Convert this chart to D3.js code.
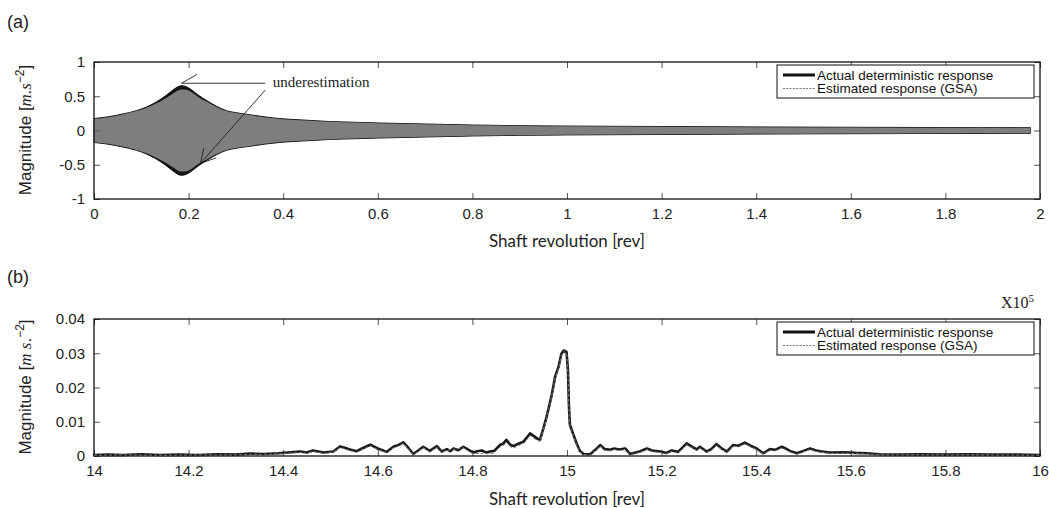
<!DOCTYPE html>
<html>
<head>
<meta charset="utf-8">
<script src="https://cdn.jsdelivr.net/npm/d3@7"></script>
<style>
  html, body { margin: 0; padding: 0; background: #fff; }
  svg { display: block; }
</style>
</head>
<body>
<svg id="chart" width="1049" height="508"></svg>
<script>
// ---------- DATA ----------
// Panel (a): envelope of the time response (amplitude, m.s^-2)
const revA = [0,0.03,0.06,0.09,0.11,0.13,0.15,0.165,0.175,0.185,0.195,0.205,0.22,0.24,0.26,0.28,0.30,0.33,0.36,0.40,0.45,0.50,0.55,0.60,0.70,0.80,0.90,1.00,1.20,1.40,1.60,1.80,1.98];
const actualAmpA = [0.175,0.20,0.24,0.29,0.34,0.41,0.50,0.58,0.63,0.655,0.64,0.60,0.52,0.43,0.35,0.29,0.26,0.23,0.20,0.17,0.15,0.13,0.12,0.11,0.095,0.08,0.07,0.065,0.058,0.052,0.047,0.043,0.04];
const estimatedAmpA = [0.17,0.195,0.235,0.285,0.33,0.39,0.465,0.53,0.575,0.60,0.595,0.565,0.49,0.415,0.34,0.283,0.254,0.225,0.195,0.166,0.146,0.127,0.117,0.107,0.092,0.077,0.067,0.062,0.055,0.049,0.044,0.04,0.037];

// Panel (b): spectrum magnitude vs shaft revolution (x 1e5)
const actualB = [[14.00,0.0003],[14.03,0.0004],[14.06,0.0003],[14.10,0.0005],[14.14,0.0003],[14.18,0.0004],[14.22,0.0003],[14.26,0.0005],[14.30,0.0004],[14.33,0.0007],[14.36,0.0006],[14.39,0.0008],[14.41,0.0010],[14.435,0.0013],[14.45,0.0010],[14.463,0.0016],[14.485,0.0010],[14.506,0.0013],[14.520,0.0028],[14.530,0.0024],[14.541,0.0019],[14.555,0.0014],[14.570,0.0024],[14.584,0.0033],[14.600,0.0022],[14.619,0.0012],[14.633,0.0027],[14.645,0.0033],[14.654,0.0040],[14.664,0.0025],[14.675,0.0006],[14.686,0.0017],[14.696,0.0027],[14.710,0.0015],[14.725,0.0029],[14.735,0.0013],[14.746,0.0020],[14.753,0.0014],[14.760,0.0022],[14.770,0.0017],[14.781,0.0027],[14.792,0.0018],[14.802,0.0010],[14.810,0.0014],[14.820,0.0016],[14.830,0.0010],[14.837,0.0013],[14.846,0.0015],[14.858,0.0032],[14.865,0.0036],[14.872,0.0047],[14.880,0.0033],[14.887,0.0029],[14.897,0.0036],[14.908,0.0042],[14.914,0.0052],[14.922,0.0066],[14.930,0.0058],[14.938,0.0050],[14.943,0.0048],[14.950,0.0080],[14.957,0.0115],[14.963,0.0150],[14.968,0.0180],[14.975,0.0232],[14.982,0.0260],[14.988,0.0298],[14.993,0.0308],[14.999,0.0304],[15.002,0.0250],[15.004,0.0150],[15.006,0.0092],[15.012,0.0068],[15.020,0.0038],[15.027,0.0015],[15.035,0.0006],[15.049,0.0005],[15.060,0.0018],[15.070,0.0032],[15.080,0.0020],[15.091,0.0018],[15.100,0.0022],[15.110,0.0019],[15.123,0.0022],[15.133,0.0006],[15.145,0.0010],[15.155,0.0014],[15.169,0.0022],[15.180,0.0016],[15.197,0.0013],[15.210,0.0009],[15.221,0.0016],[15.235,0.0012],[15.253,0.0037],[15.263,0.0028],[15.274,0.0019],[15.281,0.0027],[15.295,0.0013],[15.305,0.0020],[15.316,0.0035],[15.327,0.0022],[15.338,0.0013],[15.351,0.0032],[15.362,0.0030],[15.376,0.0039],[15.388,0.0030],[15.401,0.0022],[15.415,0.0008],[15.429,0.0020],[15.440,0.0018],[15.454,0.0027],[15.462,0.0022],[15.471,0.0015],[15.486,0.0008],[15.500,0.0015],[15.514,0.0022],[15.525,0.0017],[15.535,0.0014],[15.555,0.0010],[15.584,0.0011],[15.610,0.0009],[15.634,0.0008],[15.660,0.0005],[15.70,0.0004],[15.75,0.0005],[15.80,0.0004],[15.85,0.0005],[15.90,0.0004],[15.95,0.0004],[16.00,0.0003]];
const estimatedB = [[14.00,0.0002],[14.05,0.0003],[14.10,0.0003],[14.15,0.0002],[14.20,0.0003],[14.25,0.0003],[14.30,0.0003],[14.33,0.0005],[14.36,0.0004],[14.39,0.0006],[14.41,0.0008],[14.435,0.0010],[14.45,0.0008],[14.463,0.0013],[14.485,0.0008],[14.506,0.0011],[14.520,0.0025],[14.530,0.0021],[14.541,0.0016],[14.555,0.0011],[14.570,0.0021],[14.584,0.0030],[14.600,0.0019],[14.619,0.0009],[14.633,0.0024],[14.645,0.0030],[14.654,0.0037],[14.664,0.0022],[14.675,0.0004],[14.686,0.0014],[14.696,0.0024],[14.710,0.0012],[14.725,0.0026],[14.735,0.0010],[14.746,0.0017],[14.760,0.0019],[14.781,0.0024],[14.792,0.0014],[14.802,0.0006],[14.820,0.0008],[14.837,0.0006],[14.846,0.0009],[14.858,0.0026],[14.865,0.0030],[14.872,0.0040],[14.880,0.0027],[14.887,0.0023],[14.897,0.0030],[14.908,0.0036],[14.914,0.0046],[14.922,0.0060],[14.930,0.0052],[14.938,0.0044],[14.943,0.0043],[14.950,0.0075],[14.957,0.0110],[14.963,0.0146],[14.968,0.0176],[14.975,0.0228],[14.982,0.0256],[14.988,0.0294],[14.993,0.0305],[14.999,0.0301],[15.002,0.0246],[15.004,0.0146],[15.006,0.0088],[15.012,0.0064],[15.020,0.0034],[15.027,0.0012],[15.035,0.0004],[15.049,0.0003],[15.060,0.0015],[15.070,0.0029],[15.080,0.0017],[15.091,0.0015],[15.100,0.0019],[15.110,0.0016],[15.123,0.0019],[15.133,0.0004],[15.145,0.0007],[15.155,0.0011],[15.169,0.0019],[15.180,0.0013],[15.197,0.0010],[15.210,0.0006],[15.221,0.0013],[15.235,0.0009],[15.253,0.0033],[15.263,0.0025],[15.274,0.0016],[15.281,0.0024],[15.295,0.0010],[15.305,0.0017],[15.316,0.0031],[15.327,0.0019],[15.338,0.0010],[15.351,0.0029],[15.362,0.0027],[15.376,0.0035],[15.388,0.0027],[15.401,0.0019],[15.415,0.0005],[15.429,0.0017],[15.440,0.0015],[15.454,0.0024],[15.462,0.0019],[15.471,0.0012],[15.486,0.0005],[15.500,0.0012],[15.514,0.0019],[15.525,0.0014],[15.535,0.0011],[15.555,0.0008],[15.584,0.0008],[15.610,0.0007],[15.634,0.0006],[15.660,0.0004],[15.70,0.0003],[15.75,0.0004],[15.80,0.0003],[15.85,0.0004],[15.90,0.0003],[15.95,0.0003],[16.00,0.0002]];

// Tick labels
const xTicksA = [0,0.2,0.4,0.6,0.8,1,1.2,1.4,1.6,1.8,2];
const yTicksA = [-1,-0.5,0,0.5,1];
const xTicksB = [14,14.2,14.4,14.6,14.8,15,15.2,15.4,15.6,15.8,16];
const yTicksB = [0,0.01,0.02,0.03,0.04];
const legendLabels = ["Actual deterministic response", "Estimated response (GSA)"];

// Annotation in panel (a), data coordinates
const annotationText = { text: "underestimation", at: [0.378, 0.635] };
const annotationLines = [
  [[0.362, 0.69], [0.185, 0.69]],
  [[0.185, 0.69], [0.218, 0.82]],
  [[0.362, 0.59], [0.225, -0.48]],
  [[0.225, -0.48], [0.232, -0.26]],
  [[0.225, -0.48], [0.258, -0.40]]
];

// ---------- DRAWING ----------
const svg = d3.select("#chart");
const sans = "'Liberation Sans', Arial, sans-serif";
const serif = "'Liberation Serif', 'Times New Roman', serif";

const L = 94, R = 1040;
const xA = d3.scaleLinear().domain([0, 2]).range([L, R]);
const yA = d3.scaleLinear().domain([-1, 1]).range([199, 62]);
const xB = d3.scaleLinear().domain([14, 16]).range([L, R]);
const yB = d3.scaleLinear().domain([0, 0.04]).range([456, 319]);

function drawAxes(x, y, xt, yt, fmtX, fmtY) {
  const [y0, y1] = y.range();   // bottom, top
  const tickLen = 6;
  const g = svg.append("g");
  const bottom = g.append("g").attr("transform", `translate(0,${y0})`)
    .call(d3.axisBottom(x).tickValues(xt).tickFormat(fmtX).tickSizeInner(-tickLen).tickSizeOuter(0).tickPadding(9));
  const top = g.append("g").attr("transform", `translate(0,${y1})`)
    .call(d3.axisTop(x).tickValues(xt).tickFormat("").tickSizeInner(-tickLen).tickSizeOuter(0));
  const left = g.append("g").attr("transform", `translate(${L},0)`)
    .call(d3.axisLeft(y).tickValues(yt).tickFormat(fmtY).tickSizeInner(-tickLen).tickSizeOuter(0).tickPadding(9));
  const right = g.append("g").attr("transform", `translate(${R},0)`)
    .call(d3.axisRight(y).tickValues(yt).tickFormat("").tickSizeInner(-tickLen).tickSizeOuter(0));
  [bottom, top, left, right].forEach(a => {
    a.select(".domain").remove();
    a.selectAll(".tick line").attr("stroke", "#555").attr("stroke-width", 1);
    a.selectAll("text").attr("font-family", sans).attr("font-size", 15).attr("fill", "#222");
  });
  g.append("rect").attr("x", L).attr("y", y1).attr("width", R - L).attr("height", y0 - y1)
    .attr("fill", "none").attr("stroke", "#111").attr("stroke-width", 1.3);
}

// ----- Panel (a) -----
const envA = revA.map((r, i) => ({ r, a: actualAmpA[i], e: estimatedAmpA[i] }));
const areaActual = d3.area().x(d => xA(d.r)).y0(d => yA(-d.a)).y1(d => yA(d.a)).curve(d3.curveMonotoneX);
const areaEst = d3.area().x(d => xA(d.r)).y0(d => yA(-d.e)).y1(d => yA(d.e)).curve(d3.curveMonotoneX);
svg.append("path").datum(envA).attr("d", areaActual)
  .attr("fill", "#141414").attr("stroke", "#141414").attr("stroke-width", 1);
svg.append("path").datum(envA).attr("d", areaEst).attr("fill", "#7e7e7e");

drawAxes(xA, yA, xTicksA, yTicksA, d => String(d), d => String(d));

// annotation
const annG = svg.append("g");
annotationLines.forEach(seg => {
  annG.append("line")
    .attr("x1", xA(seg[0][0])).attr("y1", yA(seg[0][1]))
    .attr("x2", xA(seg[1][0])).attr("y2", yA(seg[1][1]))
    .attr("stroke", "#222").attr("stroke-width", 0.9);
});
annG.append("text").attr("x", xA(annotationText.at[0])).attr("y", yA(annotationText.at[1]))
  .attr("font-family", serif).attr("font-size", 15).attr("fill", "#222").text(annotationText.text);

// ----- Panel (b) -----
drawAxes(xB, yB, xTicksB, yTicksB, d => String(+d.toFixed(1)), d => String(d));
const lineB = d3.line().x(d => xB(d[0])).y(d => yB(d[1]));
svg.append("path").datum(actualB).attr("d", lineB)
  .attr("fill", "none").attr("stroke", "#1a1a1a").attr("stroke-width", 2.6)
  .attr("stroke-linejoin", "round").attr("stroke-linecap", "round");
svg.append("path").datum(estimatedB).attr("d", lineB)
  .attr("fill", "none").attr("stroke", "#777").attr("stroke-width", 1)
  .attr("stroke-dasharray", "3,2");

// ----- Legends -----
function legend(top) {
  const g = svg.append("g");
  g.append("rect").attr("x", 777).attr("y", top).attr("width", 257).attr("height", 33)
    .attr("fill", "#fff").attr("stroke", "#111").attr("stroke-width", 1);
  legendLabels.forEach((lab, i) => {
    const cy = top + 10 + i * 13.5;
    g.append("line").attr("x1", 783).attr("x2", 815).attr("y1", cy).attr("y2", cy)
      .attr("stroke", i === 0 ? "#111" : "#777").attr("stroke-width", i === 0 ? 3 : 1)
      .attr("stroke-dasharray", i === 0 ? null : "2,1.3");
    g.append("text").attr("x", 817).attr("y", cy + 4.5).attr("font-family", sans)
      .attr("font-size", 13.5).attr("fill", "#111").text(lab);
  });
}
legend(65);
legend(322);

// ----- Axis titles & panel labels -----
function xTitle(yPos) {
  svg.append("text").attr("x", 567).attr("y", yPos).attr("text-anchor", "middle")
    .attr("font-family", "Lato, 'Open Sans', sans-serif").attr("font-size", 17).attr("fill", "#222")
    .text("Shaft revolution [rev]");
}
xTitle(247);
xTitle(505);

function yTitle(cy, mathText, extraDot) {
  const t = svg.append("text").attr("transform", `translate(31,${cy}) rotate(-90)`)
    .attr("text-anchor", "middle").attr("font-family", sans).attr("font-size", 17).attr("fill", "#222");
  t.append("tspan").text("Magnitude [");
  t.append("tspan").attr("font-family", serif).attr("font-style", "italic").text(mathText);
  if (extraDot) t.append("tspan").text(".");
  t.append("tspan").attr("dy", -7).attr("font-size", 12).text("\u22122");
  t.append("tspan").attr("dy", 7).text("]");
}
yTitle(130, "m.s", false);
yTitle(387, "m s", true);

svg.append("text").attr("x", 7).attr("y", 28).attr("font-family", sans).attr("font-size", 18)
  .attr("fill", "#222").text("(a)");
svg.append("text").attr("x", 7).attr("y", 283).attr("font-family", sans).attr("font-size", 18)
  .attr("fill", "#222").text("(b)");

const mult = svg.append("text").attr("x", 1001).attr("y", 308).attr("font-family", serif)
  .attr("font-size", 16).attr("fill", "#222");
mult.append("tspan").text("X10");
mult.append("tspan").attr("dy", -6).attr("font-size", 11).text("5");
</script>
</body>
</html>
